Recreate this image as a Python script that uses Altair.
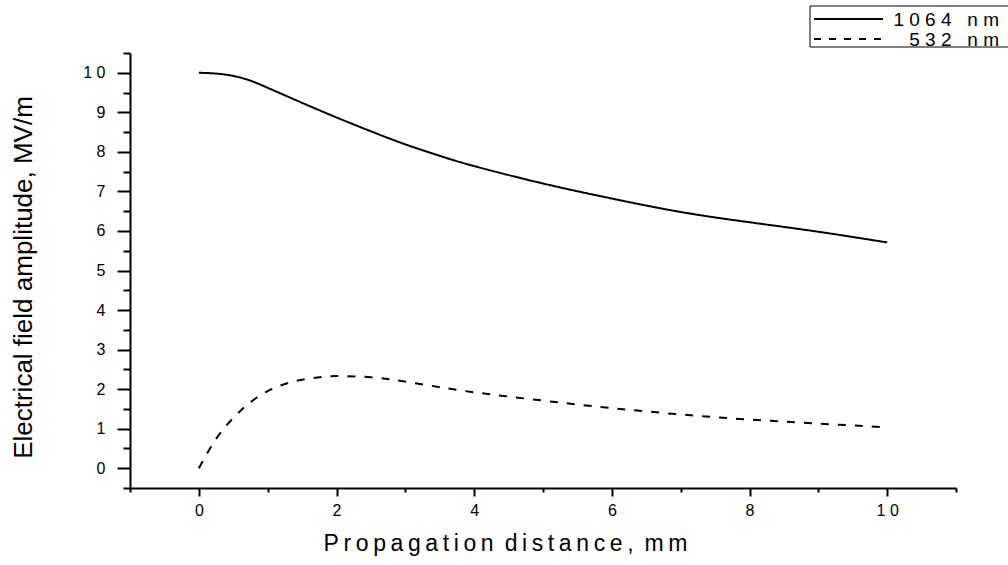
import altair as alt
import pandas as pd

# ---- data ----
series_names = ["1064 nm", "532 nm"]
NB = "\u00a0"
legend_labels = ["1 0 6 4" + NB * 3 + "n m", "5 3 2" + NB * 3 + "n m"]

x_1064 = [0, 0.25, 0.5, 0.75, 1, 1.25, 1.5, 2, 2.5, 3, 3.5, 4, 5, 6, 7, 8, 9, 10]
y_1064 = [10.0, 9.98, 9.92, 9.80, 9.62, 9.43, 9.24, 8.87, 8.52, 8.19, 7.9, 7.64, 7.2, 6.82, 6.48, 6.22, 5.98, 5.71]

x_532 = [0, 0.25, 0.5, 0.75, 1, 1.25, 1.5, 1.75, 2, 2.5, 3, 3.5, 4, 5, 6, 7, 8, 9, 10]
y_532 = [0, 0.74, 1.27, 1.67, 1.95, 2.13, 2.24, 2.30, 2.33, 2.30, 2.19, 2.05, 1.92, 1.71, 1.52, 1.36, 1.23, 1.13, 1.03]

x_ticks = list(range(-1, 12))               # majors at even, minors at odd
y_ticks = [i * 0.5 for i in range(-1, 22)]  # majors at integers, minors at halves

rows = []
for x, y in zip(x_1064, y_1064):
    rows.append({"x": x, "y": y, "series": series_names[0]})
for x, y in zip(x_532, y_532):
    rows.append({"x": x, "y": y, "series": series_names[1]})
df = pd.DataFrame(rows)

FONT = "Liberation Sans"
TS = "\u2009"
DASHES = [[1, 0], [8, 9]]


def spaced(text):
    out = []
    for ch in text:
        if ch == " ":
            out.append(" ")
        else:
            out.append(ch + TS)
    return "".join(out).rstrip(TS)


x_title = spaced("Propagation distance, mm")
y_title = "Electrical field amplitude, MV/m"

x_axis = alt.Axis(
    values=x_ticks,
    labelExpr="datum.value % 2 == 0 ? (datum.value == 10 ? '1 0' : format(datum.value, 'd')) : ''",
    tickSize={"condition": {"test": "datum.value % 2 != 0", "value": 4}, "value": 8},
    tickWidth=2, tickColor="black",
    domainWidth=2, domainColor="black",
    grid=False,
    labelFont=FONT, labelFontSize=16, labelColor="black", labelPadding=6,
    labelOverlap=False, labelFlush=False,
    title=x_title, titleFont=FONT, titleFontSize=23, titleFontWeight="normal",
    titleColor="black", titleX=375, titleY=62, titleBaseline="alphabetic",
    titleAlign="center", titleAnchor="start",
)

y_axis = alt.Axis(
    values=y_ticks,
    labelExpr="datum.value % 1 == 0 ? (datum.value == 10 ? '1 0' : format(datum.value, 'd')) : ''",
    tickSize={"condition": {"test": "datum.value % 1 != 0", "value": 7}, "value": 13},
    tickWidth=2, tickColor="black",
    domainWidth=2, domainColor="black",
    grid=False,
    labelFont=FONT, labelFontSize=16, labelColor="black", labelPadding=12,
    labelOverlap=False, labelFlush=False, labelBaseline="middle",
    title=y_title, titleFont=FONT, titleFontSize=26, titleFontWeight="normal",
    titleColor="black", titleX=-107, titleY=224, titleBaseline="middle",
    titleAlign="center", titleAngle=-90, titleAnchor="start",
)

lines = alt.Chart(df).mark_line(
    color="black", strokeWidth=2, interpolate="natural"
).encode(
    x=alt.X("x:Q", scale=alt.Scale(domain=[-1, 11], nice=False, zero=False), axis=x_axis),
    y=alt.Y("y:Q", scale=alt.Scale(domain=[-0.5, 10.5], nice=False, zero=False), axis=y_axis),
    strokeDash=alt.StrokeDash(
        "series:N",
        scale=alt.Scale(domain=series_names, range=DASHES),
        legend=None,
    ),
)

# ---- hand-built legend box (top right, outside the plot area) ----
box = alt.Chart().mark_rect(fill="white", stroke="black", strokeWidth=1).encode(
    x=alt.value(680), x2=alt.value(884), y=alt.value(-47), y2=alt.value(-6)
)
sym1 = alt.Chart().mark_rule(color="black", strokeWidth=2, strokeDash=DASHES[0]).encode(
    x=alt.value(684), x2=alt.value(753), y=alt.value(-34)
)
sym2 = alt.Chart().mark_rule(color="black", strokeWidth=2, strokeDash=[7, 8]).encode(
    x=alt.value(684), x2=alt.value(753), y=alt.value(-14)
)
lab1 = alt.Chart().mark_text(
    text=legend_labels[0], font=FONT, fontSize=19, color="black",
    align="right", baseline="middle",
).encode(x=alt.value(869), y=alt.value(-33))
lab2 = alt.Chart().mark_text(
    text=legend_labels[1], font=FONT, fontSize=19, color="black",
    align="right", baseline="middle",
).encode(x=alt.value(869), y=alt.value(-13))

chart = alt.layer(lines, box, sym1, sym2, lab1, lab2).properties(
    width=826, height=435,
    autosize=alt.AutoSizeParams(type="none"),
    padding={"left": 130, "top": 53, "right": 52, "bottom": 77},
    background="white",
).configure_view(stroke=None)

chart.save("out.html", embed_options={"renderer": "svg", "actions": False})
